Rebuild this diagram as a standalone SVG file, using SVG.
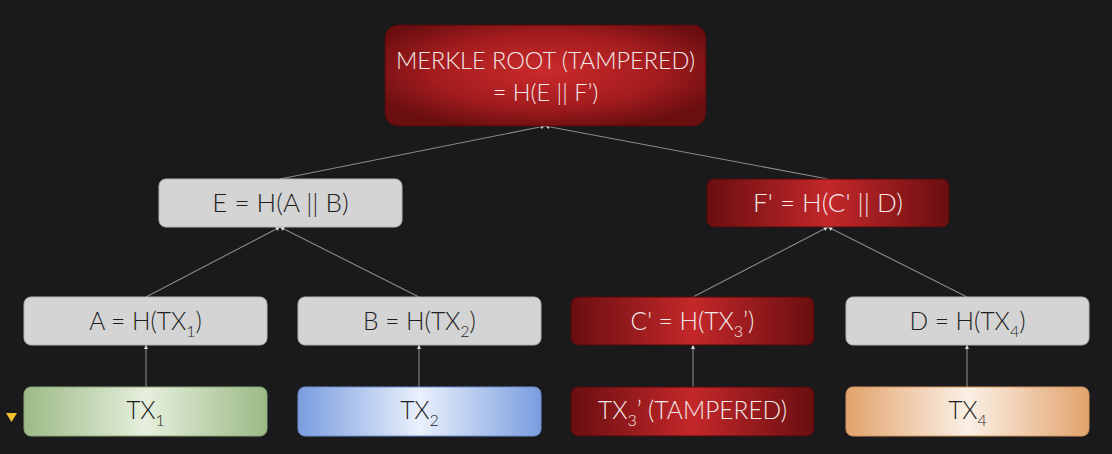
<svg xmlns="http://www.w3.org/2000/svg" width="1112" height="454" viewBox="0 0 1112 454">
<defs>
<style>
.t{font-family:Lato,"Noto Sans","Liberation Sans",sans-serif;font-size:24.5px;font-weight:300;text-anchor:middle}
.dk{fill:#1e1e1e}
.lt{fill:#f3e9e9}
.gray{fill:#d4d4d4;stroke:#b5b5b5;stroke-width:1}
.red{fill:url(#gRedL);stroke:#4a0a0b;stroke-width:1}
.edge{stroke:#8a8a8a;stroke-width:1.1;fill:none;marker-end:url(#ah)}
</style>
<radialGradient id="gRed" cx="0.5" cy="0.45" r="0.6"><stop offset="0" stop-color="#cb2a2b"/><stop offset="0.6" stop-color="#a31c1e"/><stop offset="1" stop-color="#6a0e10"/></radialGradient>
<linearGradient id="gRedL" x1="0" y1="0" x2="1" y2="0"><stop offset="0" stop-color="#6a0e10"/><stop offset="0.5" stop-color="#c4282a"/><stop offset="1" stop-color="#6a0e10"/></linearGradient>
<linearGradient id="gGreen" x1="0" y1="0" x2="1" y2="0"><stop offset="0" stop-color="#9cba86"/><stop offset="0.5" stop-color="#e6efdd"/><stop offset="1" stop-color="#9cba86"/></linearGradient>
<linearGradient id="gBlue" x1="0" y1="0" x2="1" y2="0"><stop offset="0" stop-color="#7a9ddf"/><stop offset="0.5" stop-color="#eaf0fc"/><stop offset="1" stop-color="#7a9ddf"/></linearGradient>
<linearGradient id="gOrange" x1="0" y1="0" x2="1" y2="0"><stop offset="0" stop-color="#e2a36c"/><stop offset="0.5" stop-color="#fbf0e6"/><stop offset="1" stop-color="#e2a36c"/></linearGradient>
<marker id="ah" viewBox="0 0 6 6" refX="6" refY="3" markerWidth="4" markerHeight="4" orient="auto"><path d="M0,0 L6,3 L0,6 z" fill="#dcdcdc"/></marker>
</defs>
<rect width="1112" height="454" fill="#1a1a1c"/>
<g id="connectors">
<line class="edge" x1="280" y1="179" x2="545" y2="126"/>
<line class="edge" x1="828" y1="179" x2="545" y2="126"/>
<line class="edge" x1="146" y1="297" x2="280" y2="227"/>
<line class="edge" x1="419" y1="297" x2="280" y2="227"/>
<line class="edge" x1="693" y1="297" x2="828" y2="227"/>
<line class="edge" x1="967" y1="297" x2="828" y2="227"/>
<line class="edge" x1="146" y1="387" x2="146" y2="345"/>
<line class="edge" x1="419" y1="387" x2="419" y2="345"/>
<line class="edge" x1="693" y1="387" x2="693" y2="345"/>
<line class="edge" x1="967" y1="387" x2="967" y2="345"/>
</g>
<g id="root">
<rect x="385" y="25" width="321" height="101" rx="13" fill="url(#gRed)" stroke="#4a0a0b" stroke-width="1"/>
<text class="t lt" x="545.5" y="69" style="font-size:23.5px">MERKLE ROOT (TAMPERED)</text>
<text class="t lt" x="545.5" y="101" style="font-size:23.5px">= H(E || F’)</text>
</g>
<g id="E">
<rect class="gray" x="159" y="179" width="243" height="48" rx="7"/>
<text class="t dk" x="280.5" y="212" style="font-size:26px">E = H(A || B)</text>
</g>
<g id="F">
<rect class="red" x="707" y="179" width="242" height="48" rx="7"/>
<text class="t lt" x="828" y="212" style="font-size:26px">F' = H(C' || D)</text>
</g>
<g id="A">
<rect class="gray" x="24" y="297" width="243" height="48" rx="7"/>
<text class="t dk" x="145.5" y="330">A = H(TX<tspan dy="7" font-size="16">1</tspan><tspan dy="-7">)</tspan></text>
</g>
<g id="B">
<rect class="gray" x="298" y="297" width="243" height="48" rx="7"/>
<text class="t dk" x="419.5" y="330">B = H(TX<tspan dy="7" font-size="16">2</tspan><tspan dy="-7">)</tspan></text>
</g>
<g id="C">
<rect class="red" x="571" y="297" width="243" height="48" rx="7"/>
<text class="t lt" x="692.5" y="330">C' = H(TX<tspan dy="7" font-size="16">3</tspan><tspan dy="-7">’)</tspan></text>
</g>
<g id="D">
<rect class="gray" x="846" y="297" width="243" height="48" rx="7"/>
<text class="t dk" x="967.5" y="330">D = H(TX<tspan dy="7" font-size="16">4</tspan><tspan dy="-7">)</tspan></text>
</g>
<g id="TX1">
<rect x="24" y="387" width="243" height="49" rx="7" fill="url(#gGreen)" stroke="#8aa677" stroke-width="1"/>
<text class="t dk" x="145.5" y="419">TX<tspan dy="7" font-size="16">1</tspan></text>
</g>
<g id="TX2">
<rect x="298" y="387" width="243" height="49" rx="7" fill="url(#gBlue)" stroke="#6f8fd0" stroke-width="1"/>
<text class="t dk" x="419.5" y="419">TX<tspan dy="7" font-size="16">2</tspan></text>
</g>
<g id="TX3">
<rect class="red" x="571" y="387" width="243" height="49" rx="7"/>
<text class="t lt" x="692.5" y="419">TX<tspan dy="7" font-size="16">3</tspan><tspan dy="-7">’ (TAMPERED)</tspan></text>
</g>
<g id="TX4">
<rect x="846" y="387" width="243" height="49" rx="7" fill="url(#gOrange)" stroke="#d3955f" stroke-width="1"/>
<text class="t dk" x="967.5" y="419">TX<tspan dy="7" font-size="16">4</tspan></text>
</g>
<polygon points="6,413 17,413 11.5,422" fill="#f2c12e"/>
</svg>
